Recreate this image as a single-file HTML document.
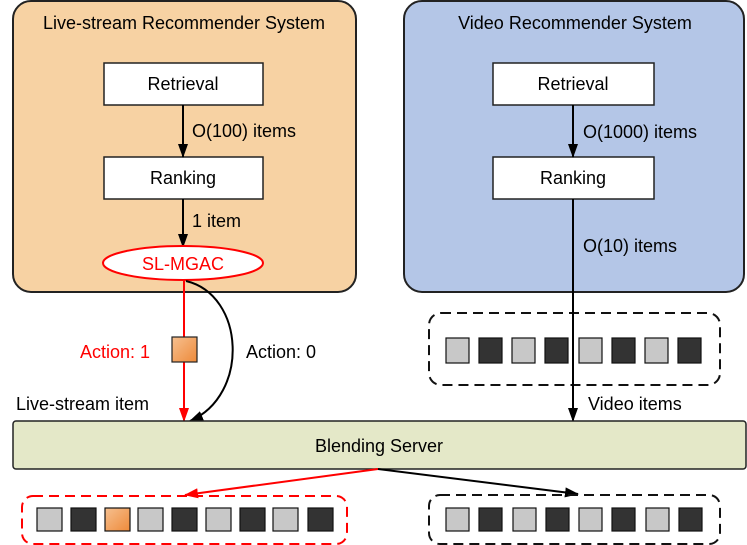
<!DOCTYPE html>
<html><head><style>body{margin:0;background:#fff}svg{display:block}text{font-family:"Liberation Sans",sans-serif}</style></head><body>
<svg width="747" height="545" viewBox="0 0 747 545">
<defs>
<marker id="ab" markerWidth="14" markerHeight="12" refX="13" refY="6" orient="auto" markerUnits="userSpaceOnUse"><path d="M0,1 L14,6 L0,11 z" fill="#000"/></marker>
<marker id="ar" markerWidth="14" markerHeight="12" refX="13" refY="6" orient="auto" markerUnits="userSpaceOnUse"><path d="M0,1 L14,6 L0,11 z" fill="#f00"/></marker>
<linearGradient id="og" x1="0" y1="0" x2="1" y2="1"><stop offset="0" stop-color="#f6c090"/><stop offset="1" stop-color="#ee8a3a"/></linearGradient>
</defs>
<rect x="13" y="1" width="343" height="291" rx="18" fill="#f7d2a3" stroke="#222" stroke-width="2"/>
<rect x="404" y="1" width="340" height="291" rx="18" fill="#b4c6e7" stroke="#222" stroke-width="2"/>
<text x="184" y="29" font-size="18" text-anchor="middle">Live-stream Recommender System</text>
<text x="575" y="29" font-size="18" text-anchor="middle">Video Recommender System</text>
<rect x="104" y="63" width="159" height="42" fill="#fff" stroke="#222" stroke-width="1.5"/>
<rect x="104" y="157" width="159" height="42" fill="#fff" stroke="#222" stroke-width="1.5"/>
<rect x="493" y="63" width="161" height="42" fill="#fff" stroke="#222" stroke-width="1.5"/>
<rect x="493" y="157" width="161" height="42" fill="#fff" stroke="#222" stroke-width="1.5"/>
<g font-size="18" text-anchor="middle"><text x="183" y="90">Retrieval</text><text x="183" y="184">Ranking</text><text x="573" y="90">Retrieval</text><text x="573" y="184">Ranking</text></g>
<line x1="183" y1="105" x2="183" y2="157" stroke="#000" stroke-width="2" marker-end="url(#ab)"/>
<line x1="183" y1="199" x2="183" y2="247" stroke="#000" stroke-width="2" marker-end="url(#ab)"/>
<line x1="573" y1="105" x2="573" y2="157" stroke="#000" stroke-width="2" marker-end="url(#ab)"/>
<line x1="573" y1="199" x2="573" y2="421" stroke="#000" stroke-width="2" marker-end="url(#ab)"/>
<g font-size="18"><text x="192" y="137">O(100) items</text><text x="192" y="227">1 item</text><text x="583" y="138">O(1000) items</text><text x="583" y="252">O(10) items</text><text x="588" y="410">Video items</text><text x="16" y="410">Live-stream item</text><text x="246" y="358">Action: 0</text><text x="80" y="358" fill="#f00">Action: 1</text></g>
<ellipse cx="183" cy="263" rx="80" ry="17" fill="#fff" stroke="#f00" stroke-width="2"/>
<text x="183" y="270" font-size="18" fill="#f00" text-anchor="middle">SL-MGAC</text>
<line x1="184" y1="280" x2="184" y2="421" stroke="#f00" stroke-width="2" marker-end="url(#ar)"/>
<rect x="172" y="337" width="25" height="25" fill="url(#og)" stroke="#222" stroke-width="1.2"/>
<path d="M186,281 C245,295 250,395 190,421" fill="none" stroke="#000" stroke-width="2" marker-end="url(#ab)"/>
<rect x="13" y="421" width="733" height="48" rx="3" fill="#e4e8c8" stroke="#222" stroke-width="1.5"/>
<text x="379" y="452" font-size="18" text-anchor="middle">Blending Server</text>
<rect x="429" y="313" width="291" height="72" rx="12" fill="none" stroke="#111" stroke-width="2" stroke-dasharray="10,6"/>
<g stroke="#111" stroke-width="1.2">
<rect x="446" y="338" width="23" height="25" fill="#c8c8c8"/><rect x="479" y="338" width="23" height="25" fill="#333"/><rect x="512" y="338" width="23" height="25" fill="#c8c8c8"/><rect x="545" y="338" width="23" height="25" fill="#333"/><rect x="579" y="338" width="23" height="25" fill="#c8c8c8"/><rect x="612" y="338" width="23" height="25" fill="#333"/><rect x="645" y="338" width="23" height="25" fill="#c8c8c8"/><rect x="678" y="338" width="23" height="25" fill="#333"/>
</g>
<line x1="573" y1="300" x2="573" y2="400" stroke="#000" stroke-width="2"/>
<line x1="378" y1="469" x2="185" y2="495" stroke="#f00" stroke-width="2" marker-end="url(#ar)"/>
<line x1="378" y1="469" x2="578" y2="494" stroke="#000" stroke-width="2" marker-end="url(#ab)"/>
<rect x="22" y="496" width="325" height="48" rx="11" fill="none" stroke="#f00" stroke-width="2" stroke-dasharray="10,6"/>
<rect x="429" y="495" width="291" height="49" rx="11" fill="none" stroke="#111" stroke-width="2" stroke-dasharray="10,6"/>
<g stroke="#111" stroke-width="1.2">
<rect x="37" y="508" width="25" height="23" fill="#c8c8c8"/><rect x="71" y="508" width="25" height="23" fill="#333"/><rect x="105" y="508" width="25" height="23" fill="url(#og)"/><rect x="138" y="508" width="25" height="23" fill="#c8c8c8"/><rect x="172" y="508" width="25" height="23" fill="#333"/><rect x="206" y="508" width="25" height="23" fill="#c8c8c8"/><rect x="240" y="508" width="25" height="23" fill="#333"/><rect x="273" y="508" width="25" height="23" fill="#c8c8c8"/><rect x="308" y="508" width="25" height="23" fill="#333"/>
<rect x="446" y="508" width="23" height="23" fill="#c8c8c8"/><rect x="479" y="508" width="23" height="23" fill="#333"/><rect x="513" y="508" width="23" height="23" fill="#c8c8c8"/><rect x="546" y="508" width="23" height="23" fill="#333"/><rect x="579" y="508" width="23" height="23" fill="#c8c8c8"/><rect x="612" y="508" width="23" height="23" fill="#333"/><rect x="646" y="508" width="23" height="23" fill="#c8c8c8"/><rect x="679" y="508" width="23" height="23" fill="#333"/>
</g>
</svg>
</body></html>
